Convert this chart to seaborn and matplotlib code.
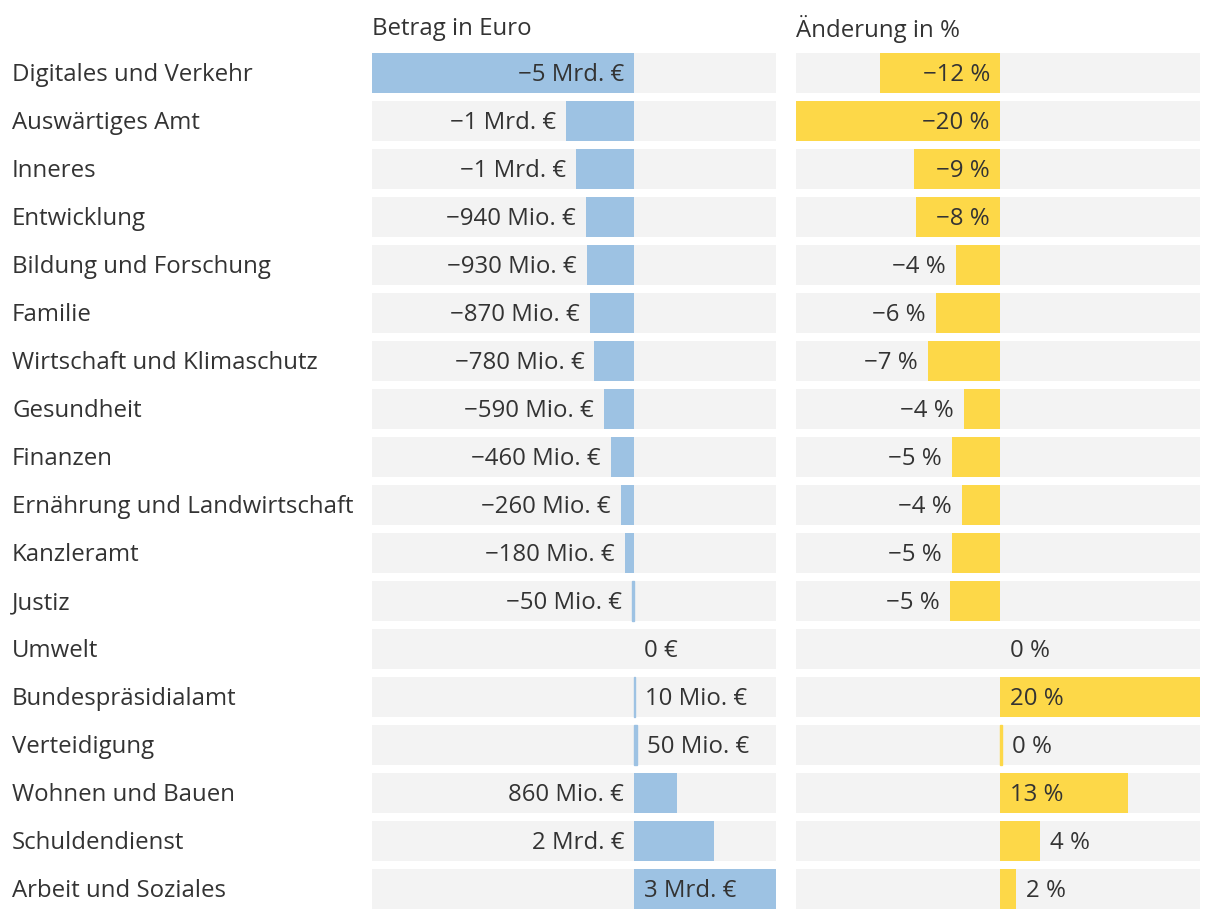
import matplotlib
matplotlib.use("Agg")
import matplotlib.pyplot as plt
import matplotlib.transforms as mtransforms
import seaborn as sns
import pandas as pd

ressorts = ["Digitales und Verkehr", "Auswärtiges Amt", "Inneres", "Entwicklung",
            "Bildung und Forschung", "Familie", "Wirtschaft und Klimaschutz",
            "Gesundheit", "Finanzen", "Ernährung und Landwirtschaft", "Kanzleramt",
            "Justiz", "Umwelt", "Bundespräsidialamt", "Verteidigung",
            "Wohnen und Bauen", "Schuldendienst", "Arbeit und Soziales"]
# Betrag in Mrd. Euro (aus Balkenlängen geschätzt)
betrag = [-5.14, -1.33, -1.14, -0.94, -0.93, -0.87, -0.78, -0.59, -0.46,
          -0.26, -0.18, -0.05, 0.0, 0.01, 0.05, 0.84, 1.57, 2.78]
betrag_labels = ["−5 Mrd. €", "−1 Mrd. €", "−1 Mrd. €", "−940 Mio. €", "−930 Mio. €",
                 "−870 Mio. €", "−780 Mio. €", "−590 Mio. €", "−460 Mio. €",
                 "−260 Mio. €", "−180 Mio. €", "−50 Mio. €", "0 €", "10 Mio. €",
                 "50 Mio. €", "860 Mio. €", "2 Mrd. €", "3 Mrd. €"]
# Änderung in Prozent
aenderung = [-12.0, -20.4, -8.6, -8.4, -4.4, -6.4, -7.2, -3.6, -4.8,
             -3.8, -4.8, -5.0, 0.0, 20.0, 0.2, 12.8, 4.0, 1.6]
aenderung_labels = ["−12 %", "−20 %", "−9 %", "−8 %", "−4 %", "−6 %", "−7 %", "−4 %",
                    "−5 %", "−4 %", "−5 %", "−5 %", "0 %", "20 %", "0 %", "13 %",
                    "4 %", "2 %"]

BLUE = "#9dc2e3"
YELLOW = "#fdd848"
BG = "#f3f3f3"
TEXT = "#333333"
FS = 17.3

sns.set_theme(style="white")
plt.rcParams["font.family"] = ["Open Sans", "DejaVu Sans"]

df = pd.DataFrame({"ressort": ressorts, "betrag": betrag, "aenderung": aenderung})

fig = plt.figure(figsize=(12.2, 9.2), dpi=100)
W, H = 1220, 920
top_px, bottom_px = 50, 914
ax1 = fig.add_axes([372 / W, 1 - bottom_px / H, 404 / W, (bottom_px - top_px) / H])
ax2 = fig.add_axes([796 / W, 1 - bottom_px / H, 404 / W, (bottom_px - top_px) / H])

n = len(ressorts)
bar_h = 40 / 48
dy = 0.03  # text sits a touch below the bar centre
renderer = fig.canvas.get_renderer()


def draw_panel(ax, col, labels, color, title):
    xmin, xmax = df[col].min(), df[col].max()
    per_px = (xmax - xmin) / 404
    ax.barh(range(n), width=xmax - xmin, left=xmin, height=bar_h, color=BG,
            linewidth=0, zorder=0)
    sns.barplot(data=df, x=col, y="ressort", orient="h", color=color, width=bar_h,
                saturation=1, linewidth=0, ax=ax, zorder=2)
    for p in ax.patches[n:]:
        if 0 < abs(p.get_width()) < 3 * per_px:
            p.set_edgecolor(color)
            p.set_linewidth(1.0)
    ax.set_xlim(xmin, xmax)
    ax.set_ylim(n - 0.5, -0.5)
    ax.axis("off")

    pad = 10 * per_px
    for i, (v, lab) in enumerate(zip(df[col], labels)):
        t = ax.text(0, i + dy, lab, va="center", fontsize=FS, color=TEXT, zorder=3)
        w = t.get_window_extent(renderer).width * per_px
        if abs(v) >= w + 26 * per_px:
            x, ha = (-pad, "right") if v < 0 else (pad, "left")
        elif v < 0:
            x, ha = v - pad, "right"
            if x - w < xmin:
                x, ha = pad, "left"
        else:
            x, ha = v + pad, "left"
            if x + w > xmax:
                x, ha = -pad, "right"
        t.set_x(x)
        t.set_ha(ha)
    ax.text(0, 1 + 21 / 864, title, transform=ax.transAxes, ha="left", va="center",
            fontsize=FS, color=TEXT)


draw_panel(ax1, "betrag", betrag_labels, BLUE, "Betrag in Euro")
draw_panel(ax2, "aenderung", aenderung_labels, YELLOW, "Änderung in %")

trans = mtransforms.blended_transform_factory(fig.transFigure, ax1.transData)
for i, name in enumerate(ressorts):
    fig.text(12 / W, i + dy, name, transform=trans, ha="left", va="center",
             fontsize=FS, color=TEXT)

fig.savefig("out.png", dpi=100)
